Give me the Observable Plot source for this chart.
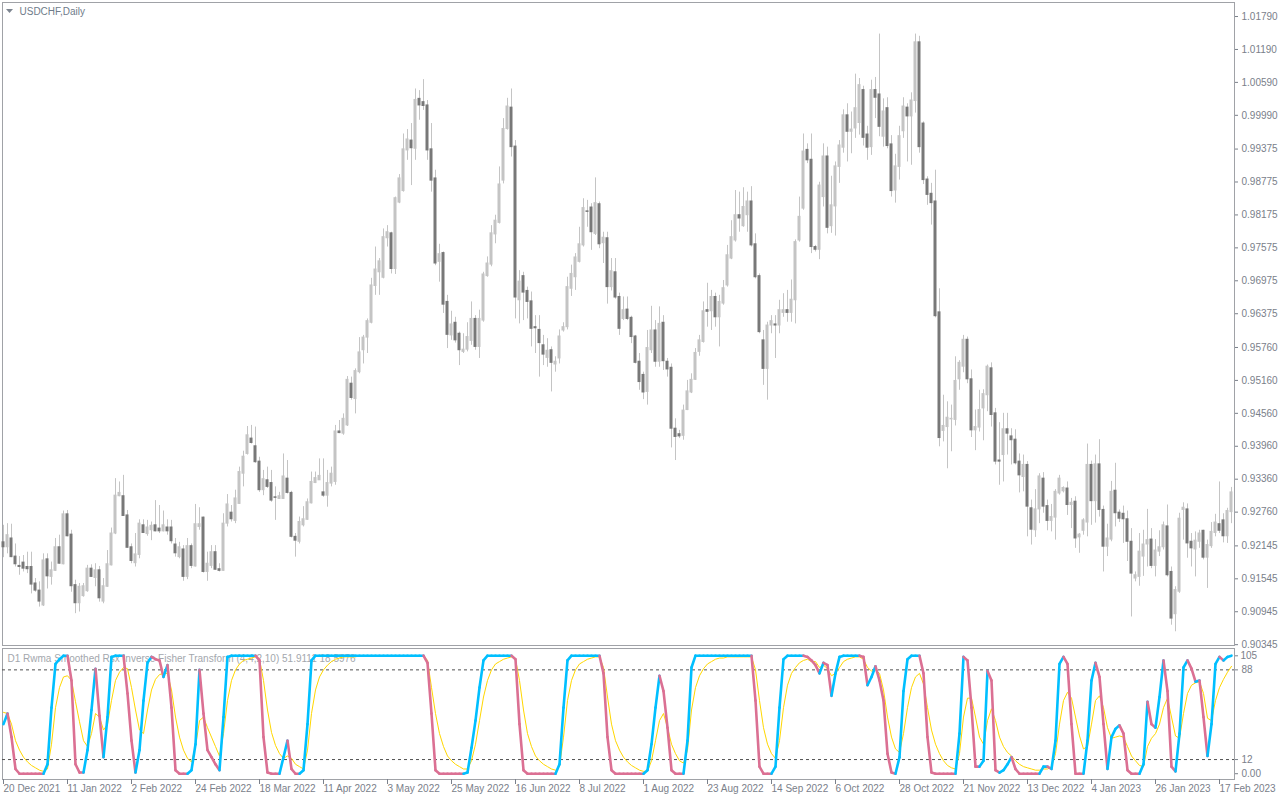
<!DOCTYPE html>
<html>
<head>
<meta charset="utf-8">
<script src="https://cdn.jsdelivr.net/npm/d3@7"></script>
<script src="https://cdn.jsdelivr.net/npm/@observablehq/plot@0.6"></script>
<style>
  html, body { margin:0; padding:0; background:#fff; }
  #wrap { position:relative; width:1280px; height:800px; overflow:hidden; background:#fff; }
  #main { position:absolute; left:0; top:0; }
  #ind { position:absolute; left:0; top:647px; }
  #tri { position:absolute; left:6px; top:9px; }
</style>
</head>
<body>
<div id="wrap">
  <div id="main"></div>
  <div id="ind"></div>
  <svg id="tri" width="7" height="4"><polygon points="0,0 7,0 3.5,4" fill="#7d8590"/></svg>
</div>
<script>
// USDCHF daily candles, prices in units of 0.0001
const open = [9221,9212,9228,9195,9178,9184,9176,9176,9146,9133, 9106,9190,9158,9169,9212,9181,9272,9235,9143,9110, 9123,9132,9173,9156,9170,9113,9140,9179,9237,9305, 9305,9270,9212,9183,9198,9252,9236,9243,9252,9246, 9241,9248,9248,9217,9194,9208,9158,9214,9177,9249, 9266,9167,9178,9203,9172,9169,9255,9275,9260,9291, 9346,9382,9410,9396,9368,9316,9334,9329,9303,9300, 9300,9337,9311,9231,9222,9252,9262,9292,9329,9334, 9312,9306,9328,9331,9423,9419,9434,9510,9482,9531, 9571,9594,9621,9688,9713,9703,9775,9784,9719,9840, 9861,9935,9953,9938,10029,10023,10017,9937,9884,9732, 9748,9659,9598,9621,9601,9568,9572,9588,9628,9577, 9625,9706,9727,9782,9803,9880,9974,10013,9942,9662, 9706,9679,9660,9613,9608,9580,9557,9571,9545,9556, 9607,9613,9683,9704,9732,9762,9824,9831,9783,9837, 9766,9775,9686,9713,9668,9628,9645,9630,9596,9550, 9526,9495,9571,9607,9550,9621,9550,9539,9428,9418, 9415,9462,9494,9517,9568,9586,9644,9642,9668,9631, 9656,9689,9738,9771,9817,9797,9817,9842,9764,9706, 9589,9537,9616,9618,9616,9639,9644,9639,9662,9771, 9829,9936,9918,9759,9754,9850,9924,9797,9833,9905, 9940,9999,9969,9975,9985,10045,9964,9941,10045,10037, 9960,10012,9946,9862,9905,9970,10013,9997,10025,10132, 9984,9882,9856,9842,9640,9424,9431,9445,9444,9518, 9541,9590,9518,9425,9430,9465,9489,9538,9456,9370, 9380,9427,9414,9408,9368,9340,9362,9283,9243,9281, 9337,9287,9260,9266,9310,9314,9319,9289,9295,9230, 9242,9257,9362,9296,9363,9280,9213,9226,9315,9275, 9273,9263,9222,9155,9158,9195,9217,9226,9178,9204, 9212,9250,9167,9090,9131,9280,9281,9222,9208,9222, 9242,9193,9214,9238,9254,9261,9232,9276];
const high = [9252,9255,9254,9218,9195,9197,9203,9203,9155,9149, 9200,9200,9185,9228,9234,9278,9279,9243,9152,9146, 9146,9179,9180,9182,9177,9155,9206,9247,9337,9331, 9343,9279,9218,9237,9262,9262,9261,9258,9297,9288, 9278,9262,9261,9228,9221,9215,9228,9218,9290,9284, 9267,9203,9215,9215,9182,9273,9308,9288,9316,9358, 9387,9432,9434,9431,9376,9352,9358,9352,9322,9312, 9382,9370,9314,9237,9267,9286,9300,9349,9349,9373, 9373,9352,9358,9434,9443,9455,9523,9522,9537,9594, 9598,9628,9702,9759,9738,9792,9798,9786,9850,9891, 9965,9973,9984,10047,10044,10064,10026,9984,9899,9764, 9750,9671,9642,9631,9604,9601,9621,9659,9634,9644, 9713,9741,9798,9817,9905,9993,10030,10047,9953,9716, 9713,9686,9677,9634,9634,9598,9592,9577,9559,9608, 9621,9704,9726,9747,9795,9847,9844,9838,9885,9841, 9786,9786,9738,9738,9675,9668,9668,9633,9598,9565, 9531,9607,9651,9625,9650,9634,9556,9546,9446,9425, 9471,9516,9528,9574,9598,9659,9693,9680,9675,9671, 9698,9762,9807,9862,9859,9867,9859,9869,9783,9710, 9607,9622,9634,9634,9662,9674,9680,9699,9772,9850, 9965,9947,9965,9762,9877,9947,9941,9888,9914,9953, 10009,10020,10005,10074,10066,10052,9979,10063,10068,10147, 10029,10031,9962,9928,9979,10031,10020,10040,10147,10143, 9987,9887,9875,9899,9683,9489,9477,9471,9559,9552, 9598,9595,9535,9462,9498,9499,9544,9548,9465,9439, 9456,9456,9428,9426,9382,9380,9368,9298,9317,9346, 9348,9298,9290,9317,9343,9322,9331,9301,9304,9237, 9264,9400,9369,9380,9408,9287,9254,9332,9365,9280, 9287,9278,9246,9167,9237,9243,9281,9246,9226,9242, 9258,9289,9176,9140,9274,9293,9291,9237,9240,9243, 9243,9225,9257,9272,9331,9273,9283,9321];
const low = [9193,9200,9193,9176,9161,9167,9164,9127,9130,9103, 9104,9136,9143,9168,9181,9180,9231,9130,9091,9094, 9121,9130,9157,9140,9112,9109,9139,9178,9235,9304, 9268,9210,9182,9176,9191,9237,9232,9224,9240,9237, 9240,9234,9218,9194,9191,9150,9153,9173,9176,9243, 9165,9150,9173,9170,9167,9168,9249,9258,9255,9290, 9322,9380,9400,9365,9312,9306,9319,9294,9261,9299, 9299,9309,9229,9194,9218,9249,9261,9291,9328,9334, 9303,9285,9322,9325,9419,9416,9432,9480,9455,9528, 9546,9565,9619,9671,9671,9701,9759,9710,9709,9838, 9859,9917,9871,9917,9990,10008,9917,9859,9725,9695, 9638,9574,9589,9584,9543,9565,9568,9580,9571,9556, 9622,9704,9723,9765,9801,9874,9972,9923,9628,9619, 9625,9628,9577,9565,9522,9543,9540,9495,9531,9546, 9604,9608,9669,9680,9730,9759,9795,9753,9780,9756, 9729,9655,9679,9664,9598,9625,9625,9583,9546,9498, 9481,9471,9565,9540,9540,9534,9522,9393,9370,9410, 9407,9461,9492,9516,9560,9584,9613,9607,9613,9577, 9653,9686,9736,9768,9786,9795,9786,9759,9701,9601, 9507,9480,9601,9556,9601,9631,9622,9622,9619,9768, 9826,9911,9747,9750,9736,9832,9783,9784,9779,9875, 9930,9914,9929,9957,9963,9943,9917,9926,9993,9960, 9941,9938,9850,9839,9881,9957,9914,9908,10003,9930, 9873,9835,9799,9630,9395,9404,9355,9386,9433,9498, 9530,9510,9412,9388,9422,9406,9459,9431,9362,9325, 9331,9380,9362,9362,9311,9313,9231,9216,9230,9255, 9274,9242,9240,9225,9307,9311,9270,9246,9210,9201, 9234,9231,9252,9256,9267,9167,9195,9222,9249,9257, 9219,9186,9085,9149,9141,9159,9176,9173,9158,9195, 9207,9158,9070,9058,9128,9225,9192,9176,9158,9210, 9189,9137,9210,9231,9237,9220,9219,9255];
const close = [9212,9234,9194,9181,9176,9173,9172,9144,9133,9113, 9188,9159,9170,9212,9182,9272,9232,9141,9110,9140, 9141,9173,9158,9170,9119,9141,9181,9237,9306,9311, 9269,9211,9187,9199,9255,9238,9248,9251,9241,9241, 9252,9241,9223,9201,9212,9158,9214,9178,9254,9254, 9167,9182,9203,9171,9169,9255,9290,9263,9301,9349, 9377,9416,9402,9367,9316,9336,9322,9297,9302,9305, 9341,9311,9231,9224,9258,9263,9294,9331,9338,9342, 9306,9329,9346,9423,9420,9446,9517,9484,9533,9567, 9594,9624,9689,9718,9733,9777,9786,9719,9848,9884, 9937,9955,9939,10027,10017,10016,9935,9880,9729,9746, 9654,9599,9618,9589,9571,9572,9595,9628,9577,9628, 9709,9729,9784,9807,9873,9974,10015,9941,9667,9696, 9676,9659,9610,9611,9584,9563,9570,9548,9550,9596, 9613,9686,9710,9740,9764,9830,9823,9786,9839,9764, 9776,9686,9715,9667,9610,9644,9628,9595,9548,9513, 9494,9575,9607,9550,9619,9551,9536,9428,9413,9414, 9461,9496,9517,9566,9589,9642,9641,9668,9631,9659, 9684,9744,9777,9817,9811,9832,9842,9762,9704,9604, 9537,9616,9624,9616,9644,9644,9639,9663,9768,9814, 9933,9917,9759,9754,9871,9924,9794,9835,9906,9944, 9999,9969,9973,10012,10054,9958,9940,10045,10031,9978, 10006,9943,9861,9906,9961,10015,9997,10026,10132,9941, 9881,9854,9839,9633,9411,9433,9448,9446,9515,9548, 9590,9518,9425,9431,9462,9491,9541,9453,9368,9368, 9427,9419,9407,9365,9343,9362,9286,9244,9281,9341, 9286,9260,9267,9313,9337,9320,9289,9293,9228,9235, 9261,9362,9296,9363,9280,9213,9228,9313,9274,9264, 9263,9222,9164,9161,9204,9217,9225,9178,9206,9212, 9252,9161,9082,9134,9264,9284,9219,9210,9224,9237, 9193,9216,9240,9257,9242,9232,9278,9312];

// Indicator: main line and signal line (0..100)
const rsx = [42,51,31,4,0,0,0,0,0,0, 0,8,56,93,97,100,100,79,8,1, 1,20,54,89,49,14,48,99,100,100, 100,68,28,1,20,62,94,99,97,96, 82,92,56,3,0,0,0,3,25,88, 51,20,14,8,3,48,99,100,100,100, 100,100,100,100,96,31,1,0,0,0, 14,28,4,0,0,3,42,96,100,100, 100,100,100,100,100,100,100,100,100,100, 100,100,100,100,100,100,100,100,100,100, 100,100,100,100,100,100,94,51,3,0, 0,0,0,0,0,0,1,22,45,73, 96,100,100,100,100,100,100,100,97,42, 3,0,0,0,0,0,0,0,0,8, 56,96,100,100,100,100,100,100,100,100, 85,31,3,0,0,0,0,0,0,0, 0,3,25,56,83,70,39,3,0,0, 0,28,90,100,100,100,100,100,100,100, 100,100,100,100,100,100,100,100,62,6, 0,0,0,6,56,97,100,100,100,100, 100,99,96,92,85,94,92,66,85,99, 100,100,100,100,100,99,75,82,91,79, 62,17,1,0,14,70,97,100,100,100, 85,31,1,0,0,0,0,0,0,34, 99,96,56,6,6,11,87,79,3,1, 3,8,14,4,0,0,0,0,0,0, 6,6,4,28,93,99,93,42,0,0, 0,28,79,94,82,42,4,31,38,41, 34,3,0,0,0,8,61,42,39,65, 96,70,6,2,34,90,96,89,78,79, 48,15,42,93,99,96,99,100];
const signal = [52,51,42,28,20,14,10,7,5,3, 2,4,25,56,73,82,83,79,61,44, 28,23,34,51,48,37,42,62,79,86, 90,89,73,54,37,34,54,71,80,84, 85,85,71,48,31,20,13,10,23,45, 48,39,31,23,15,34,62,79,88,93, 96,97,98,99,97,79,54,35,24,17, 13,15,13,8,6,4,20,51,71,82, 88,92,95,97,98,99,99,99,99,100, 100,100,100,100,100,100,100,100,100,100, 100,100,100,100,100,100,96,73,51,34, 23,15,11,8,6,4,4,11,25,45, 65,79,88,93,95,97,98,99,97,79, 54,34,23,15,11,8,6,4,3,6, 31,62,79,88,93,95,97,98,99,99, 90,65,42,28,20,14,10,7,5,3, 2,2,11,28,45,51,39,25,17,11, 9,20,54,73,83,89,93,95,97,98, 98,99,99,99,99,99,99,99,88,62, 39,25,17,13,28,56,75,85,90,94, 96,97,95,95,90,92,89,83,85,90, 95,97,98,99,99,97,90,87,88,85, 71,48,31,21,18,34,56,73,82,85, 76,56,37,25,17,11,7,5,4,17, 48,64,64,48,31,25,45,55,45,31, 23,18,15,11,8,6,5,4,3,3, 4,4,6,17,42,62,69,64,48,32, 21,23,42,62,66,56,39,30,31,32, 31,23,15,11,7,6,23,30,34,42, 56,64,48,32,30,51,68,75,77,78, 68,47,45,62,73,80,86,91];
const levels = [88, 12];

// Axis labels
const priceTicks = [1.01790,1.01190,1.00590,0.99990,0.99375,0.98775,0.98175,0.97575,0.96975,0.96375,0.95760,0.95160,0.94560,0.93960,0.93360,0.92760,0.92145,0.91545,0.90945,0.90345];
const dateTicks = [0,16,32,48,64,80,96,112,128,144,160,176,192,208,224,240,256,272,288,304];
const dateLabels = ["20 Dec 2021","11 Jan 2022","2 Feb 2022","24 Feb 2022","18 Mar 2022","11 Apr 2022","3 May 2022","25 May 2022","16 Jun 2022","8 Jul 2022","1 Aug 2022","23 Aug 2022","14 Sep 2022","6 Oct 2022","28 Oct 2022","21 Nov 2022","13 Dec 2022","4 Jan 2023","26 Jan 2023","17 Feb 2023"];
const symbolTitle = "USDCHF,Daily";
const indTitle = "D1 Rwma Smoothed Rsx Inverse Fisher Transform (4,4,2,10) 51.9111 18.5976";

const FONT = '"Liberation Sans", Arial, sans-serif';
const LABEL = "#7a808a";
const BORDER = "#a0a2a7";
const LIGHT = "#c4c4c4", DARK = "#787878";
const BLUE = "#00bfff", PINK = "#db7093", GOLD = "#ffd700";

const bars = open.map((o, i) => ({i, open: o / 1e4, high: high[i] / 1e4, low: low[i] / 1e4, close: close[i] / 1e4}));

const xDomain = [-0.25, 307.75];

const mainChart = Plot.plot({
  width: 1280, height: 647,
  marginLeft: 2, marginRight: 46, marginTop: 2, marginBottom: 2,
  x: {domain: xDomain, axis: null},
  y: {domain: [0.90330, 1.020455], axis: null},
  color: {type: "identity"},
  style: {fontFamily: FONT, fontSize: "10px", background: "transparent", overflow: "visible"},
  marks: [
    Plot.frame({stroke: BORDER}),
    Plot.ruleX(bars, {x: "i", y1: "low", y2: "high", stroke: LIGHT}),
    Plot.rect(bars, {
      x1: d => d.i - 0.375, x2: d => d.i + 0.375,
      y1: d => Math.min(d.open, d.close), y2: d => Math.max(d.open, d.close),
      fill: d => d.close >= d.open ? LIGHT : DARK,
      insetTop: -0.5, insetBottom: -0.5
    }),
    Plot.axisY(priceTicks, {anchor: "right", tickSize: 3, tickPadding: 4, tickFormat: d => d.toFixed(5), color: LABEL}),
    Plot.text([symbolTitle], {frameAnchor: "top-left", dx: 17, dy: 5, lineAnchor: "top", textAnchor: "start", fill: "#6f7c8a", fontSize: 10})
  ]
});
document.getElementById("main").appendChild(mainChart);

const sig = signal.map((v, i) => ({i, v}));
const segs = [];
let prevC = BLUE;
for (let k = 1; k < rsx.length; k++) {
  const a = rsx[k - 1], b = rsx[k];
  const c = b > a ? BLUE : b < a ? PINK : prevC;
  prevC = c;
  segs.push({x1: k - 1, y1: a, x2: k, y2: b, c});
}

const indChart = Plot.plot({
  width: 1280, height: 153,
  marginLeft: 2, marginRight: 46, marginTop: 1, marginBottom: 21,
  x: {domain: xDomain, axis: null},
  y: {domain: [-4.9, 106.1], axis: null},
  color: {type: "identity"},
  style: {fontFamily: FONT, fontSize: "10px", background: "transparent", overflow: "visible"},
  marks: [
    Plot.frame({stroke: BORDER}),
    Plot.text([indTitle], {frameAnchor: "top-left", dx: 5, dy: 6, lineAnchor: "top", textAnchor: "start", fill: "#a3a7ad", fontSize: 10}),
    Plot.ruleY(levels, {stroke: "#505050", strokeDasharray: "3,3"}),
    Plot.line(sig, {x: "i", y: "v", stroke: GOLD, strokeWidth: 1}),
    Plot.link(segs, {x1: "x1", y1: "y1", x2: "x2", y2: "y2", stroke: "c", strokeWidth: 2.6, strokeLinecap: "round"}),
    Plot.axisY([88, 12], {anchor: "right", tickSize: 3, tickPadding: 4, tickFormat: d => String(d), color: LABEL}),
    Plot.axisY([105], {anchor: "right", tickSize: 3, tickPadding: 3, dy: 6, tickFormat: d => String(d), color: LABEL}),
    Plot.axisY([0], {anchor: "right", tickSize: 3, tickPadding: 4, tickFormat: () => "0.00", color: LABEL}),
    Plot.axisX(dateTicks, {anchor: "bottom", tickSize: 5, tickPadding: 0, textAnchor: "start",
      tickFormat: d => dateLabels[dateTicks.indexOf(d)], color: LABEL})
  ]
});
document.getElementById("ind").appendChild(indChart);
</script>
</body>
</html>
